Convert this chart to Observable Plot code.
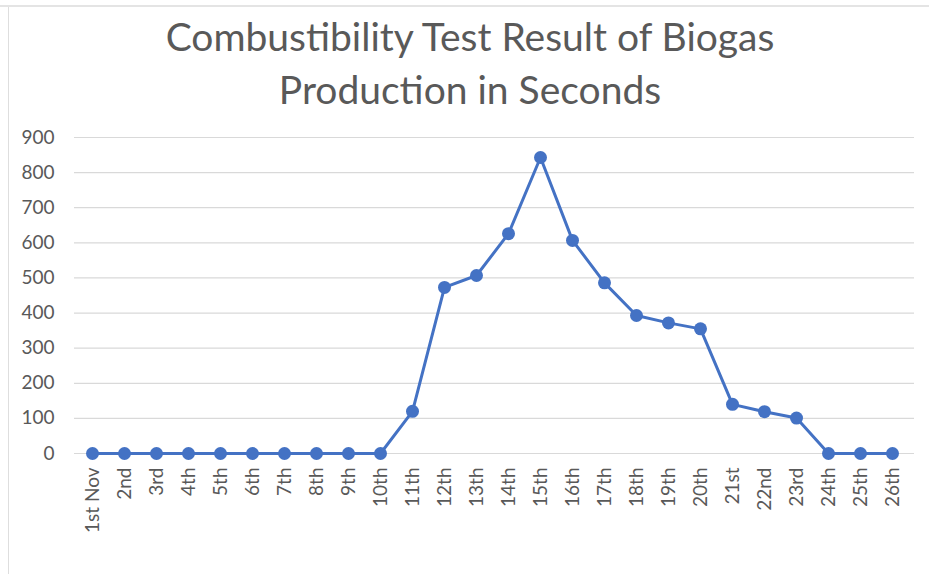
<!DOCTYPE html>
<html>
<head>
<meta charset="utf-8">
<script src="https://cdn.jsdelivr.net/npm/d3@7"></script>
<script src="https://cdn.jsdelivr.net/npm/@observablehq/plot@0.6"></script>
<style>
  html, body { margin: 0; padding: 0; background: #fff; }
  #wrap { position: relative; width: 929px; height: 574px; overflow: hidden; background: #fff; }
  #frame { position: absolute; left: 0; top: 5px; width: 929px; height: 569px;
           border-top: 2px solid #e4e4e4; box-sizing: border-box; }
  #frameL { position: absolute; left: 8px; top: 7px; width: 1px; height: 567px; background: #dedede; }
  #title { position: absolute; left: 0; top: 0; width: 929px; box-sizing: border-box;
           padding-left: 11px; padding-top: 10px; text-align: center;
           font-family: Lato, "Open Sans", sans-serif; font-size: 39px; line-height: 53px;
           color: #595959; }
  #chart { position: absolute; left: 0; top: 115px; }
</style>
</head>
<body>
<div id="wrap">
  <div id="frame"></div>
  <div id="frameL"></div>
  <div id="title">Combustibility Test Result of Biogas<br>Production in Seconds</div>
  <div id="chart"></div>
</div>
<script>
const days = ["1st Nov","2nd","3rd","4th","5th","6th","7th","8th","9th","10th",
  "11th","12th","13th","14th","15th","16th","17th","18th","19th","20th",
  "21st","22nd","23rd","24th","25th","26th"];
const seconds = [0,0,0,0,0,0,0,0,0,0,
  120,473,507,626,843,607,486,393,372,355,
  140,119,101,0,0,0];
const yTicks = [0,100,200,300,400,500,600,700,800,900];

const data = days.map((d, i) => ({day: d, value: seconds[i]}));

const chart = Plot.plot({
  width: 929,
  height: 459,
  marginTop: 22,
  marginBottom: 121,
  marginLeft: 74,
  marginRight: 15,
  style: {fontFamily: "Lato, 'Open Sans', sans-serif", color: "#595959", background: "transparent"},
  x: {type: "point", domain: days, padding: 0, insetLeft: 16, insetRight: 20, label: null},
  y: {domain: [0, 900], ticks: yTicks, label: null},
  marks: [
    Plot.gridY(yTicks, {stroke: "#d9d9d9", strokeOpacity: 1, strokeWidth: 1.2}),
    Plot.axisY(yTicks, {tickSize: 0, tickPadding: 20, fontSize: 19, fill: "#595959", label: null}),
    Plot.axisX({tickSize: 0, tickPadding: 14, tickRotate: -90, fontSize: 19, fill: "#595959", label: null}),
    Plot.line(data, {x: "day", y: "value", stroke: "#4472C4", strokeWidth: 3}),
    Plot.dot(data, {x: "day", y: "value", r: 6.5, fill: "#4472C4", stroke: "none"})
  ]
});
document.getElementById("chart").appendChild(chart);
</script>
</body>
</html>
